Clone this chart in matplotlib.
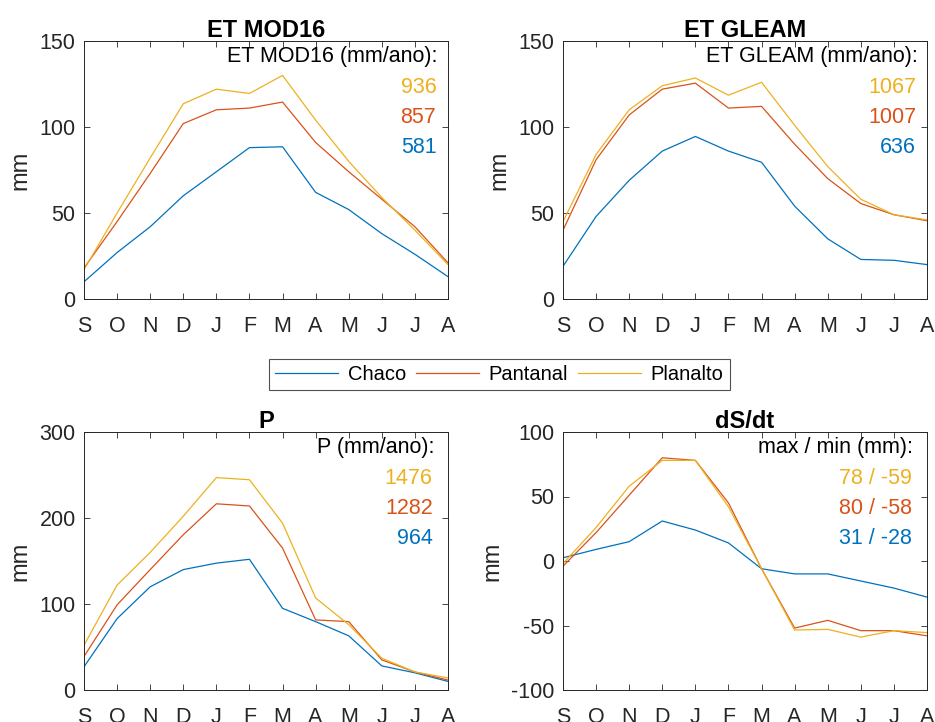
import matplotlib.pyplot as plt
import numpy as np

plt.rcParams['font.family'] = ['Liberation Sans', 'DejaVu Sans']
plt.rcParams['axes.unicode_minus'] = False

# meses (ano hidrológico set-ago)
meses = ["S", "O", "N", "D", "J", "F", "M", "A", "M", "J", "J", "A"]
regioes = ["Chaco", "Pantanal", "Planalto"]
cores = ["#0072BD", "#D95319", "#EDB120"]

# ET MOD16 (mm)
et_mod16_chaco = [10, 27, 42, 60, 74, 88, 88.5, 62, 52, 38, 26, 13]
et_mod16_pantanal = [18, 45, 73, 102, 110, 111, 114.5, 91, 74, 58, 42, 21]
et_mod16_planalto = [17, 50, 82, 113.5, 122, 119.5, 130, 104, 80, 59, 40, 20]

# ET GLEAM (mm)
et_gleam_chaco = [19, 48, 69, 86, 94.5, 86, 79.5, 54, 35, 23, 22.5, 20]
et_gleam_pantanal = [40, 81, 107, 122, 125.5, 111, 112, 90, 70, 55.5, 49, 45.5]
et_gleam_planalto = [45, 84, 110, 124, 128.5, 118.5, 126, 101, 77, 58, 49, 46]

# P (mm)
p_chaco = [27, 83, 120, 140, 147.5, 152, 95, 79.5, 63, 28, 20, 10]
p_pantanal = [39, 99, 140, 180.5, 216.5, 214, 165, 81.5, 79.5, 35, 21, 11.5]
p_planalto = [52, 122, 160, 202, 247, 244.5, 194, 107, 76, 37, 21, 14]

# dS/dt (mm)
ds_chaco = [2.5, 9, 15, 31, 24, 14, -6, -10, -10, -15.5, -21, -28]
ds_pantanal = [-4, 22, 51, 80, 78, 45, -6, -52, -46, -54, -54, -58]
ds_planalto = [-2, 26, 58, 78, 78, 42, -6, -53.5, -53, -59, -54, -55.5]

anuais_mod16 = ["936", "857", "581"]
anuais_gleam = ["1067", "1007", "636"]
anuais_p = ["1476", "1282", "964"]
maxmin_ds = ["78 / -59", "80 / -58", "31 / -28"]

W, H = 935, 722
fig = plt.figure(figsize=(W / 100, H / 100), dpi=100)


def eixo(x0, y0, x1, y1):
    # posição em pixels (topo-esquerda) -> coordenadas da figura
    return fig.add_axes([x0 / W, (H - y1) / H, (x1 - x0) / W, (y1 - y0) / H])


paineis = [
    (eixo(84, 41, 448, 299), "ET MOD16", [et_mod16_chaco, et_mod16_pantanal, et_mod16_planalto],
     (0, 150), [0, 50, 100, 150], "ET MOD16 (mm/ano):", anuais_mod16, 0.972),
    (eixo(563, 41, 927, 299), "ET GLEAM", [et_gleam_chaco, et_gleam_pantanal, et_gleam_planalto],
     (0, 150), [0, 50, 100, 150], "ET GLEAM (mm/ano):", anuais_gleam, 0.974),
    (eixo(84, 432, 448, 690), "P", [p_chaco, p_pantanal, p_planalto],
     (0, 300), [0, 100, 200, 300], "P (mm/ano):", anuais_p, 0.962),
    (eixo(563, 432, 927, 690), "dS/dt", [ds_chaco, ds_pantanal, ds_planalto],
     (-100, 100), [-100, -50, 0, 50, 100], "max / min (mm):", maxmin_ds, 0.962),
]

x = np.arange(len(meses))
for ax, titulo, series, ylim, yticks, cabec, valores, xr in paineis:
    linhas = []
    for serie, cor, nome in zip(series, cores, regioes):
        l, = ax.plot(x, serie, color=cor, lw=0.9, label=nome)
        linhas.append(l)
    ax.set_xlim(0, 11)
    ax.set_ylim(*ylim)
    ax.set_xticks(x)
    ax.set_xticklabels(meses)
    ax.set_yticks(yticks)
    ax.tick_params(direction="in", top=True, right=True, length=4, width=0.6,
                   labelsize=15.5, colors="#262626")
    ax.tick_params(axis="x", pad=12)
    ax.tick_params(axis="y", pad=6)
    for s in ax.spines.values():
        s.set_linewidth(0.7)
        s.set_color("#262626")
    ax.set_title(titulo, fontsize=17, fontweight="bold", pad=3, color="black")
    ax.set_ylabel("mm", fontsize=17, color="#262626", labelpad=6)

    # textos de totais anuais (canto superior direito)
    ax.text(xr, 0.938, cabec, transform=ax.transAxes, ha="right", va="center",
            fontsize=15.5, color="black")
    for i, (v, cor) in enumerate(zip(valores, cores[::-1])):
        ax.text(xr - 0.004, 0.82 - i * 0.117, v, transform=ax.transAxes, ha="right",
                va="center", fontsize=15.5, color=cor)

leg = fig.legend(linhas, regioes, ncol=3, loc="center",
                 bbox_to_anchor=(499.5 / W, 1 - 374.5 / H), fontsize=14.5,
                 frameon=True, fancybox=False, edgecolor="#262626",
                 handlelength=3.1, columnspacing=0.5, handletextpad=0.5,
                 borderpad=0.3, borderaxespad=0)
leg.get_frame().set_linewidth(0.8)

fig.savefig("out.png", dpi=100)
